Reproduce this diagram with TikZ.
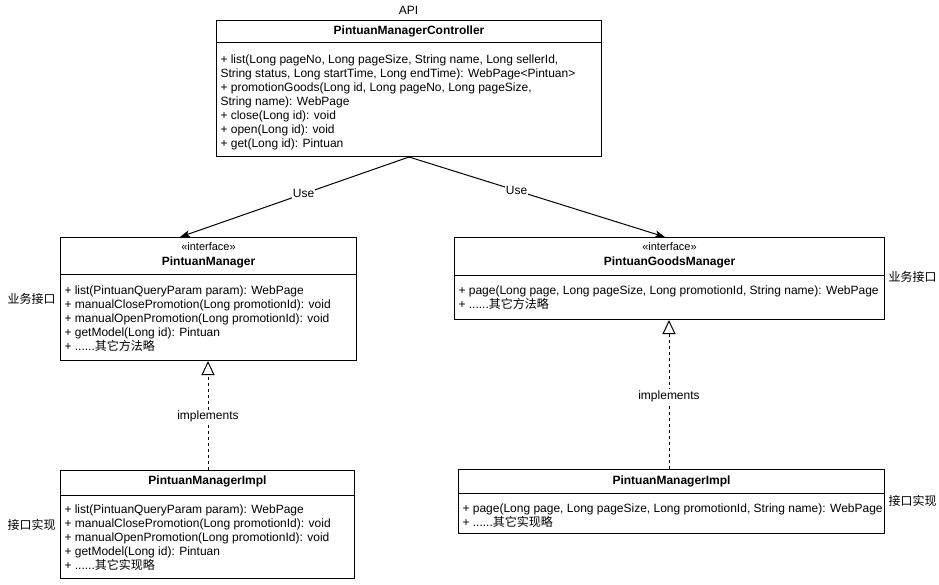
\documentclass[tikz,border=0pt]{standalone}
\usepackage{fontspec}
\setmainfont{Liberation Sans}
\newfontfamily\cjk{Noto Sans CJK SC}
\usetikzlibrary{arrows.meta,calc}
\begin{document}
\begin{tikzpicture}[x=1pt,y=-1pt, font=\fontsize{12}{14}\selectfont, line width=1pt,
 umlbox/.style={draw, rectangle, inner sep=0pt, anchor=north west},
 members/.style={anchor=north west, align=left, inner sep=0pt},
 titletext/.style={inner sep=0pt, font=\fontsize{12}{14}\selectfont\bfseries},
 stereo/.style={inner sep=0pt, font=\fontsize{11}{13}\selectfont},
 sidelabel/.style={inner sep=0pt, anchor=west, font=\fontsize{12}{14}\selectfont\cjk},
 usearrow/.style={-{Stealth[length=10pt,width=7pt,inset=2.5pt]}},
 realize/.style={dash pattern=on 3pt off 3pt, -{Triangle[open,length=14pt,width=13pt]}},
 edgelabel/.style={fill=white, inner sep=1pt}]
\useasboundingbox (0,0) rectangle (939,584);

% Controller
\node[inner sep=0pt] (api) at (408.5,10) {API};
\node[umlbox, minimum width=385pt, minimum height=136pt] (ctrl) at (216,20) {};
\draw ($(ctrl.north west)+(0,22)$) -- ($(ctrl.north east)+(0,22)$);
\node[titletext] (ctrltitle) at ($(ctrl.north)+(0,11)$) {PintuanManagerController};
\node[members] (ctrlmembers) at ($(ctrl.north west)+(4,54.5-20)$) {%
+ list(Long pageNo, Long pageSize, String name, Long sellerId,\\
String status, Long startTime, Long endTime): WebPage<Pintuan>\\
+ promotionGoods(Long id, Long pageNo, Long pageSize,\\
String name): WebPage\\
+ close(Long id): void\\
+ open(Long id): void\\
+ get(Long id): Pintuan};

% PintuanManager interface
\node[umlbox, minimum width=296pt, minimum height=123pt] (pm) at (60,237) {};
\draw ($(pm.north west)+(0,37)$) -- ($(pm.north east)+(0,37)$);
\node[stereo] (pmstereo) at ($(pm.north)+(0,10)$) {«interface»};
\node[titletext] (pmtitle) at ($(pm.north)+(0,25)$) {PintuanManager};
\node[members] (pmmembers) at ($(pm.north west)+(4,285-237)$) {%
+ list(PintuanQueryParam param): WebPage\\
+ manualClosePromotion(Long promotionId): void\\
+ manualOpenPromotion(Long promotionId): void\\
+ getModel(Long id): Pintuan\\
+ ......{\cjk 其它方法略}};
\node[sidelabel] (pmlabel) at (7,299) {业务接口};

% PintuanGoodsManager interface
\node[umlbox, minimum width=430pt, minimum height=82pt] (pgm) at (454,237) {};
\draw ($(pgm.north west)+(0,38)$) -- ($(pgm.north east)+(0,38)$);
\node[stereo] (pgmstereo) at ($(pgm.north)+(0,10)$) {«interface»};
\node[titletext] (pgmtitle) at ($(pgm.north)+(0,25)$) {PintuanGoodsManager};
\node[members] (pgmmembers) at ($(pgm.north west)+(4,285-237)$) {%
+ page(Long page, Long pageSize, Long promotionId, String name): WebPage\\
+ ......{\cjk 其它方法略}};
\node[sidelabel] (pgmlabel) at (888,277) {业务接口};

% PintuanManagerImpl (left)
\node[umlbox, minimum width=294pt, minimum height=108pt] (pmi) at (60,470) {};
\draw ($(pmi.north west)+(0,25)$) -- ($(pmi.north east)+(0,25)$);
\node[titletext] (pmititle) at ($(pmi.north)+(0,11)$) {PintuanManagerImpl};
\node[members] (pmimembers) at ($(pmi.north west)+(4,504-470)$) {%
+ list(PintuanQueryParam param): WebPage\\
+ manualClosePromotion(Long promotionId): void\\
+ manualOpenPromotion(Long promotionId): void\\
+ getModel(Long id): Pintuan\\
+ ......{\cjk 其它实现略}};
\node[sidelabel] (pmilabel) at (7,525) {接口实现};

% PintuanManagerImpl (right)
\node[umlbox, minimum width=426pt, minimum height=64pt] (pgmi) at (458,469) {};
\draw ($(pgmi.north west)+(0,24)$) -- ($(pgmi.north east)+(0,24)$);
\node[titletext] (pgmititle) at ($(pgmi.north)+(0,12)$) {PintuanManagerImpl};
\node[members] (pgmimembers) at ($(pgmi.north west)+(4,503-469)$) {%
+ page(Long page, Long pageSize, Long promotionId, String name): WebPage\\
+ ......{\cjk 其它实现略}};
\node[sidelabel] (pgmilabel) at (888,501) {接口实现};

% Connectors
\coordinate (pmin) at ($(pm.north west)+(120,0)$);
\coordinate (pgmin) at ($(pgm.north west)+(211,0)$);
\draw[usearrow] (ctrl.south) -- node[edgelabel, pos=0.46] {Use} (pmin);
\draw[usearrow] (ctrl.south) -- node[edgelabel, pos=0.42] {Use} (pgmin);

\coordinate (pmiout) at ($(pmi.north west)+(148,0)$);
\coordinate (pmend) at ($(pm.south west)+(148,0)$);
\draw[realize] (pmiout) -- node[edgelabel, pos=0.49] {implements} (pmend);
\coordinate (pgmiout) at ($(pgmi.north west)+(211,0)$);
\coordinate (pgmend) at ($(pgm.south west)+(215,0)$);
\draw[realize] (pgmiout) -- node[edgelabel, pos=0.49] {implements} (pgmend);
\end{tikzpicture}
\end{document}
